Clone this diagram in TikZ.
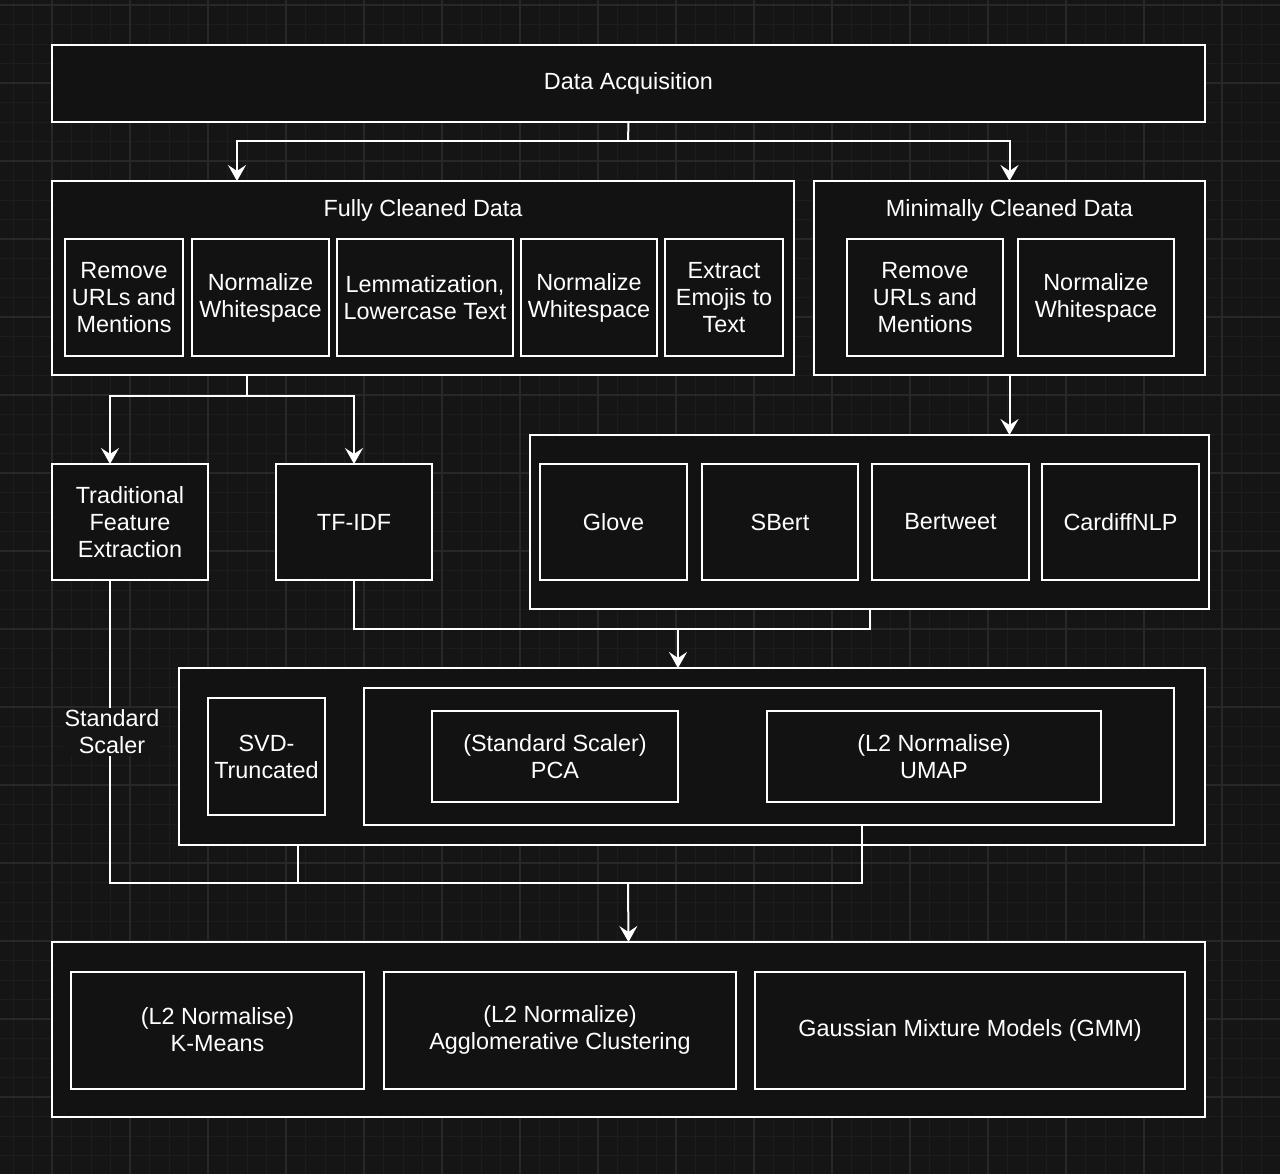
\documentclass[tikz,border=0pt]{standalone}
\usepackage{fontspec}
\setmainfont{Liberation Sans}
\usepackage{tikz}
\usetikzlibrary{arrows.meta,positioning,calc}
\definecolor{canvas}{HTML}{151515}
\definecolor{gridminor}{HTML}{1D1D1D}
\definecolor{gridmajor}{HTML}{282828}
\definecolor{boxfill}{HTML}{121212}
\tikzset{
  basic/.style  = {draw=white, line width=1pt, fill=boxfill, text=white, rectangle,
                   font=\fontsize{11.7}{13.5}\selectfont, align=center, inner sep=0pt, outer sep=0pt},
  group/.style  = {basic},
  stage/.style  = {basic},
  title/.style  = {text=white, font=\fontsize{11.7}{13.5}\selectfont, inner sep=0pt},
  link/.style   = {draw=white, line width=1pt},
  flow/.style   = {link, -{Stealth[length=8pt,width=9pt,inset=3pt]}}
}

\begin{document}
\begin{tikzpicture}[x=0.5pt,y=-0.5pt]

% canvas and grid
\useasboundingbox (0,0) rectangle (1280,1174);
\fill[canvas] (0,0) rectangle (1280,1174);
\foreach \gx in {13,32.5,...,1280} \draw[gridminor, line width=0.5pt] (\gx,0) -- (\gx,1174);
\foreach \gy in {5,24.5,...,1174} \draw[gridminor, line width=0.5pt] (0,\gy) -- (1280,\gy);
\foreach \gx in {52,130,...,1280} \draw[gridmajor, line width=0.6pt] (\gx,0) -- (\gx,1174);
\foreach \gy in {5,83,...,1174} \draw[gridmajor, line width=0.6pt] (0,\gy) -- (1280,\gy);

% acquisition
\node[stage, minimum width=576.5pt, minimum height=38.5pt] (acq) at (628.5,83) {Data Acquisition};

% cleaning, full
\node[group, minimum width=371pt, minimum height=97pt] (full) at (423,278) {};
\node[title] (fullt) at (423,210) {Fully Cleaned Data};
\node[stage, minimum width=59pt, minimum height=58.5pt] (f1) at (124,297.5) {Remove\\URLs and\\Mentions};
\node[stage, minimum width=68.5pt, minimum height=58.5pt] (f2) at (260.5,297.5) {Normalize\\Whitespace};
\node[stage, minimum width=88pt, minimum height=58.5pt] (f3) at (425,297.5) {Lemmatization,\\Lowercase Text};
\node[stage, minimum width=68pt, minimum height=58.5pt] (f4) at (589,297.5) {Normalize\\Whitespace};
\node[stage, minimum width=59pt, minimum height=58.5pt] (f5) at (724,297.5) {Extract\\Emojis to\\Text};

% cleaning, minimal
\node[group, minimum width=195.5pt, minimum height=97pt] (mini) at (1009.5,278) {};
\node[title] (minit) at (1009.5,210) {Minimally Cleaned Data};
\node[stage, minimum width=78pt, minimum height=58.5pt] (m1) at (925,297.5) {Remove\\URLs and\\Mentions};
\node[stage, minimum width=78pt, minimum height=58.5pt] (m2) at (1096,297.5) {Normalize\\Whitespace};

% features
\node[stage, minimum width=78pt, minimum height=58pt] (trad) at (130,522) {Traditional\\Feature\\Extraction};
\node[stage, minimum width=78pt, minimum height=58pt] (tfidf) at (354,522) {TF-IDF};
\node[group, minimum width=339.5pt, minimum height=87pt] (emb) at (869.5,522) {};
\node[stage, minimum width=73.5pt, minimum height=58pt] (glove) at (613.5,522) {Glove};
\node[stage, minimum width=78pt, minimum height=58pt] (sbert) at (780,522) {SBert};
\node[stage, minimum width=78.5pt, minimum height=58pt] (bertweet) at (950.5,522) {Bertweet};
\node[stage, minimum width=78.5pt, minimum height=58pt] (cardiff) at (1120.5,522) {CardiffNLP};

% dimensionality reduction
\node[group, minimum width=513pt, minimum height=88.5pt] (dimred) at (692,756.5) {};
\node[stage, minimum width=58.5pt, minimum height=58.5pt] (svd) at (266.5,756.5) {SVD-\\Truncated};
\node[group, minimum width=405pt, minimum height=68.5pt] (proj) at (769,756.5) {};
\node[stage, minimum width=123pt, minimum height=45.5pt] (pca) at (555,756.5) {(Standard Scaler)\\PCA};
\node[stage, minimum width=167pt, minimum height=45.5pt] (umap) at (934,756.5) {(L2 Normalise)\\UMAP};

% clustering
\node[group, minimum width=576.5pt, minimum height=87.5pt] (clus) at (628.5,1029.5) {};
\node[stage, minimum width=146.5pt, minimum height=58.5pt] (km) at (217.5,1030) {(L2 Normalise)\\K-Means};
\node[stage, minimum width=176pt, minimum height=58.5pt] (agg) at (560,1030) {(L2 Normalize)\\Agglomerative Clustering};
\node[stage, minimum width=215pt, minimum height=58.5pt] (gmm) at (970,1030) {Gaussian Mixture Models (GMM)};

% connectors
\coordinate (j1) at (628,141);
\draw[link] (acq.south) -- (j1);
\draw[flow] (j1) -| ($(full.north west)+(185,0)$);
\draw[flow] (j1) -| (mini.north);

\coordinate (j2) at ($(full.south west)+(195,21)$);
\draw[link] ($(full.south west)+(195,0)$) -- (j2);
\draw[flow] (j2) -| ($(trad.north west)+(58,0)$);
\draw[flow] (j2) -| (tfidf.north);

\draw[flow] (mini.south) -- (mini.south |- emb.north);

\coordinate (j3) at (678,629);
\draw[link] (tfidf.south) |- (j3) -| (emb.south);
\draw[flow] (j3) -- (j3 |- dimred.north);

\coordinate (j4) at (628,883);
\draw[link] ($(trad.south west)+(58,0)$) |- (j4);
\draw[link] ($(dimred.south west)+(119,0)$) |- (j4);
\draw[link] ($(proj.south west)+(498,0)$) |- (j4);
\draw[flow] (j4) -- (clus.north);

\node[title, fill=canvas, align=center, inner sep=1pt] (scaler) at (112,732) {Standard\\Scaler};

\end{tikzpicture}
\end{document}
